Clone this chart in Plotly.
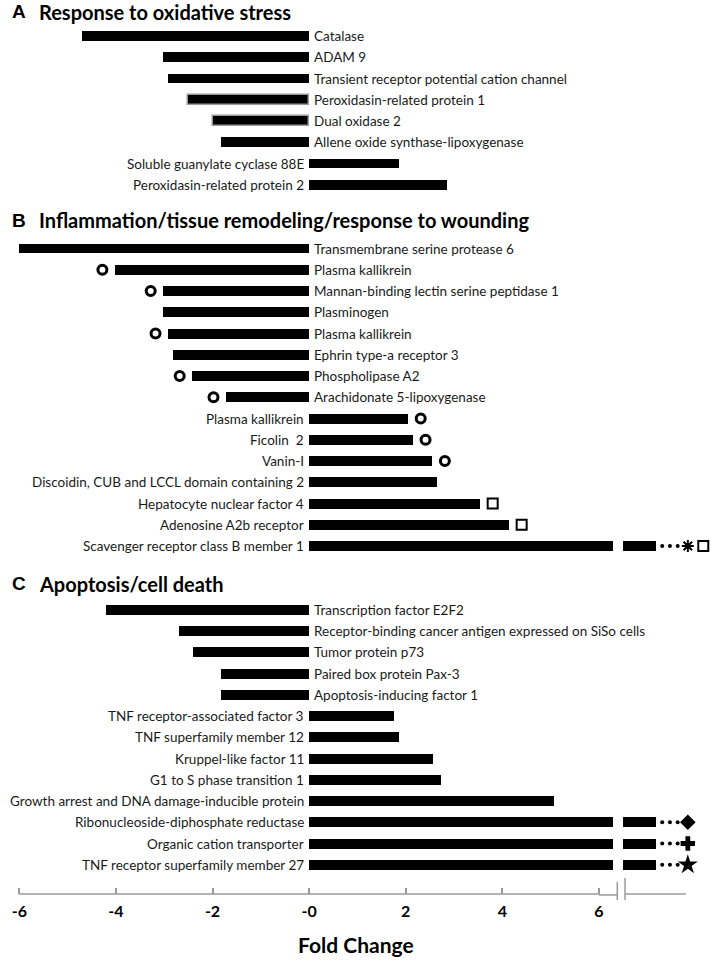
import plotly.graph_objects as go

# Panel A - response to oxidative stress
A_LABELS = ["Catalase", "ADAM 9", "Transient receptor potential cation channel",
            "Peroxidasin-related protein 1", "Dual oxidase 2",
            "Allene oxide synthase-lipoxygenase", "Soluble guanylate cyclase 88E",
            "Peroxidasin-related protein 2"]
A_VALUES = [-4.7, -3.02, -2.92, -2.5, -2.0, -1.82, 1.86, 2.86]
A_OUTLINED = [False, False, False, True, True, False, False, False]
A_MARKS = [None] * 8
A_BREAK = [None] * 8

# Panel B - inflammation / tissue remodeling / wounding
B_LABELS = ["Transmembrane serine protease 6", "Plasma kallikrein",
            "Mannan-binding lectin serine peptidase 1", "Plasminogen",
            "Plasma kallikrein", "Ephrin type-a receptor 3", "Phospholipase A2",
            "Arachidonate 5-lipoxygenase", "Plasma kallikrein", "Ficolin\u00a0\u00a02",
            "Vanin-I", "Discoidin, CUB and LCCL domain containing 2",
            "Hepatocyte nuclear factor 4", "Adenosine A2b receptor",
            "Scavenger receptor class B member 1"]
B_VALUES = [-6.0, -4.02, -3.02, -3.02, -2.92, -2.81, -2.42, -1.72,
            2.05, 2.15, 2.55, 2.65, 3.54, 4.14, None]
B_OUTLINED = [False] * 15
B_MARKS = [None, "o", "o", None, "o", None, "o", "o", "o", "o", "o", None, "sq", "sq", "sq"]
B_BREAK = [None] * 14 + ["asterisk"]

# Panel C - apoptosis / cell death
C_LABELS = ["Transcription factor E2F2",
            "Receptor-binding cancer antigen expressed on SiSo cells",
            "Tumor protein p73", "Paired box protein Pax-3",
            "Apoptosis-inducing factor 1", "TNF receptor-associated factor 3",
            "TNF superfamily member 12", "Kruppel-like factor 11",
            "G1 to S phase transition 1",
            "Growth arrest and DNA damage-inducible protein",
            "Ribonucleoside-diphosphate reductase", "Organic cation transporter",
            "TNF receptor superfamily member 27"]
C_VALUES = [-4.2, -2.69, -2.4, -1.82, -1.82, 1.76, 1.86, 2.57, 2.73, 5.07, None, None, None]
C_OUTLINED = [False] * 13
C_MARKS = [None] * 13
C_BREAK = [None] * 10 + ["diamond", "cross", "star"]

# (letter, title, first row slot, header offset, ...)
PANELS = [
    ("A", "Response to oxidative stress", 0, -1.13,
     A_LABELS, A_VALUES, A_OUTLINED, A_MARKS, A_BREAK),
    ("B", "Inflammation/tissue remodeling/response to wounding", 10, -1.32,
     B_LABELS, B_VALUES, B_OUTLINED, B_MARKS, B_BREAK),
    ("C", "Apoptosis/cell death", 27, -1.22,
     C_LABELS, C_VALUES, C_OUTLINED, C_MARKS, C_BREAK),
]

TICK_VALS = [-6, -4, -2, 0, 2, 4, 6]
TICK_TEXT = ["-6", "-4", "-2", "-0", "2", "4", "6"]

# broken-axis geometry (axis units)
BREAK_LO, BREAK_HI, TAIL_END = 6.29, 6.5, 7.18
DOTS_X = [7.31, 7.47, 7.63]
SYMBOL_X, LAST_SQ_X = 7.84, 8.16
MARK_GAP = 0.26

LABEL_FONT = dict(family="Lato", size=13.5, color="#1a1a1a")

fig = go.Figure()
annotations = []

bar_y, bar_x, bar_base, line_w = [], [], [], []
circ_x, circ_y, sq_x, sq_y, dot_x, dot_y = [], [], [], [], [], []
end_syms = {}

for letter, title, start, hoff, labels, values, outlined, marks, breaks in PANELS:
    annotations.append(dict(x=10 / 711, xref="paper", y=start + hoff, yref="y",
                            text=letter, showarrow=False, xanchor="left",
                            font=dict(family="Liberation Sans", size=19, color="black", weight="bold")))
    annotations.append(dict(x=37 / 711, xref="paper", y=start + hoff, yref="y",
                            text=title, showarrow=False, xanchor="left",
                            font=dict(family="Lato", size=20, color="black", weight="bold")))
    for i, lab in enumerate(labels):
        y = start + i
        v = values[i]
        if v is None:
            # off-scale bar drawn across the axis break
            bar_y += [y, y]
            bar_x += [BREAK_LO, TAIL_END - BREAK_HI]
            bar_base += [0, BREAK_HI]
            line_w += [0, 0]
            dot_x += DOTS_X
            dot_y += [y] * 3
            end_syms.setdefault(breaks[i], []).append(y)
            if marks[i] == "sq":
                sq_x.append(LAST_SQ_X)
                sq_y.append(y)
            pos = True
        else:
            bar_y.append(y)
            bar_x.append(v)
            bar_base.append(0)
            line_w.append(1.5 if outlined[i] else 0)
            pos = v > 0
            mx = v + (MARK_GAP if pos else -MARK_GAP)
            if marks[i] == "o":
                circ_x.append(mx)
                circ_y.append(y)
            elif marks[i] == "sq":
                sq_x.append(mx)
                sq_y.append(y)
        annotations.append(dict(x=0, y=y, xref="x", yref="y", text=lab, showarrow=False,
                                xanchor="right" if pos else "left",
                                xshift=-3 if pos else 3, font=LABEL_FONT))

fig.add_trace(go.Bar(
    x=bar_x, y=bar_y, base=bar_base, orientation="h", width=0.47,
    marker=dict(color="black", line=dict(color="#9a9a9a", width=line_w)),
    showlegend=False, hoverinfo="skip",
))
fig.add_trace(go.Scatter(x=circ_x, y=circ_y, mode="markers", showlegend=False,
                         marker=dict(symbol="circle-open", size=9, color="black",
                                     line=dict(width=3, color="black"))))
fig.add_trace(go.Scatter(x=sq_x, y=sq_y, mode="markers", showlegend=False,
                         marker=dict(symbol="square-open", size=10, color="black",
                                     line=dict(width=2, color="black"))))
fig.add_trace(go.Scatter(x=dot_x, y=dot_y, mode="markers", showlegend=False,
                         marker=dict(symbol="circle", size=4, color="black")))
sym_style = {
    "asterisk": dict(symbol="asterisk-open", size=10, color="black",
                     line=dict(width=2, color="black")),
    "diamond": dict(symbol="diamond", size=12, color="black"),
    "cross": dict(symbol="cross", size=12, color="black"),
    "star": dict(symbol="star", size=15, color="black"),
}
for name, ys in end_syms.items():
    fig.add_trace(go.Scatter(x=[SYMBOL_X] * len(ys), y=ys, mode="markers",
                             showlegend=False, marker=sym_style[name]))

# broken x axis line
axis_col = "#9a9a9a"
shapes = [
    dict(type="line", xref="x", yref="paper", x0=-6.0, x1=6.0, y0=0, y1=0,
         line=dict(color=axis_col, width=1.5)),
    dict(type="line", xref="x", yref="paper", x0=6.0, x1=6.38, y0=-1, y1=-1,
         ysizemode="pixel", yanchor=0,
         line=dict(color=axis_col, width=1.5)),
    dict(type="line", xref="x", yref="paper", x0=6.38, x1=6.38, y0=-6, y1=12,
         ysizemode="pixel", yanchor=0, line=dict(color=axis_col, width=1.5)),
    dict(type="line", xref="x", yref="paper", x0=6.54, x1=6.54, y0=-6, y1=16,
         ysizemode="pixel", yanchor=0, line=dict(color=axis_col, width=1.5)),
    dict(type="line", xref="x", yref="paper", x0=6.54, x1=7.8, y0=0, y1=0,
         line=dict(color=axis_col, width=1.5)),
]

annotations.append(dict(x=0.5, xref="paper", y=-0.056, yref="paper", text="Fold Change",
                        showarrow=False, xanchor="center", yanchor="middle",
                        font=dict(family="Lato", size=21, color="black", weight="bold")))

fig.update_layout(
    width=711, height=961,
    margin=dict(l=0, r=0, t=0, b=67),
    plot_bgcolor="white", paper_bgcolor="white",
    bargap=0, barmode="overlay",
    annotations=annotations, shapes=shapes,
    xaxis=dict(range=[-6.4, 8.32], tickvals=TICK_VALS, ticktext=TICK_TEXT,
               ticks="inside", ticklen=6, tickcolor=axis_col, tickwidth=1.5,
               showgrid=False, zeroline=False, showline=False, ticklabelstandoff=6,
               tickfont=dict(family="Lato", size=16, color="black", weight="bold")),
    yaxis=dict(range=[40.376, -1.694], visible=False, showgrid=False, zeroline=False),
)

fig.write_html("out.html", config={"displayModeBar": False},
               post_script="document.body.style.margin = '0';")
